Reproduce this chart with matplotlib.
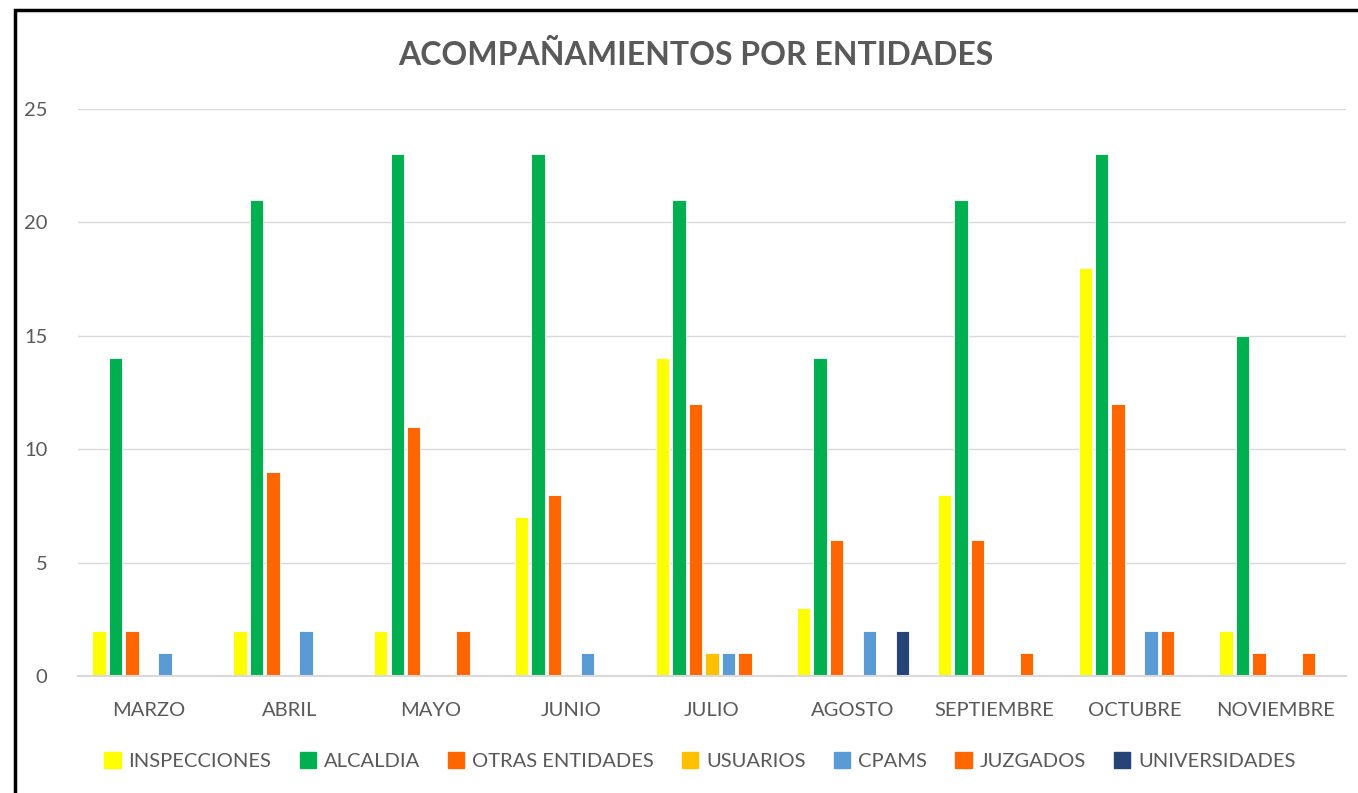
import matplotlib.pyplot as plt
import matplotlib.patches as mpatches
import numpy as np

plt.rcParams['font.family'] = ['Lato', 'DejaVu Sans']

meses = ["MARZO", "ABRIL", "MAYO", "JUNIO", "JULIO", "AGOSTO",
         "SEPTIEMBRE", "OCTUBRE", "NOVIEMBRE"]
series = ["INSPECCIONES", "ALCALDIA", "OTRAS ENTIDADES", "USUARIOS",
          "CPAMS", "JUZGADOS", "UNIVERSIDADES"]
inspecciones = [2, 2, 2, 7, 14, 3, 8, 18, 2]
alcaldia = [14, 21, 23, 23, 21, 14, 21, 23, 15]
otras = [2, 9, 11, 8, 12, 6, 6, 12, 1]
usuarios = [0, 0, 0, 0, 1, 0, 0, 0, 0]
cpams = [1, 2, 0, 1, 1, 2, 0, 2, 0]
juzgados = [0, 0, 2, 0, 1, 0, 1, 2, 1]
universidades = [0, 0, 0, 0, 0, 2, 0, 0, 0]
valores = [inspecciones, alcaldia, otras, usuarios, cpams, juzgados, universidades]
colores = ["#FFFF00", "#00B050", "#FF6600", "#FFC000", "#5B9BD5", "#FF6600", "#264478"]

fig = plt.figure(figsize=(13.58, 7.93), dpi=100)
ax = fig.add_axes([78 / 1358, 1 - 676 / 793, 1268 / 1358, 567 / 793])

x = np.arange(len(meses))
paso = 0.117
ancho = 0.095
for i, (nombre, vals, c) in enumerate(zip(series, valores, colores)):
    ax.bar(x + (i - 3) * paso, vals, ancho, color=c, label=nombre,
           edgecolor="white", linewidth=0.6)

ax.set_xlim(-0.5, len(meses) - 0.5)
ax.set_ylim(0, 25)
ax.set_yticks(range(0, 26, 5))
ax.set_xticks(x)
ax.set_xticklabels(meses)
ax.tick_params(axis="both", length=0, labelsize=14.5, colors="#595959")
ax.tick_params(axis="x", pad=19)
ax.tick_params(axis="y", pad=22)
ax.yaxis.grid(True, color="#D9D9D9", linewidth=1)
ax.set_axisbelow(True)
for s in ["top", "right", "left"]:
    ax.spines[s].set_visible(False)
ax.spines["bottom"].set_color("#D9D9D9")
ax.spines["bottom"].set_linewidth(1.5)

fig.text(696 / 1358, 1 - 55 / 793, "ACOMPAÑAMIENTOS POR ENTIDADES",
         ha="center", va="center", fontsize=23, fontweight="bold", color="#595959")

handles = [mpatches.Patch(color=c, label=n) for n, c in zip(series, colores)]
fig.legend(handles=handles, loc="center", bbox_to_anchor=(700 / 1358, 1 - 761 / 793),
           ncol=7, frameon=False, fontsize=14.5, labelcolor="#595959",
           handlelength=0.8, handleheight=0.8, handletextpad=0.4, columnspacing=1.4)

# marco del grafico (recortado a la derecha y abajo)
fig.patches.append(mpatches.Rectangle((15 / 1358, -0.05), 1.2, 1 - 10 / 793 + 0.05,
                                      transform=fig.transFigure, fill=False,
                                      edgecolor="black", linewidth=2.5))

fig.savefig("out.png", dpi=100)
